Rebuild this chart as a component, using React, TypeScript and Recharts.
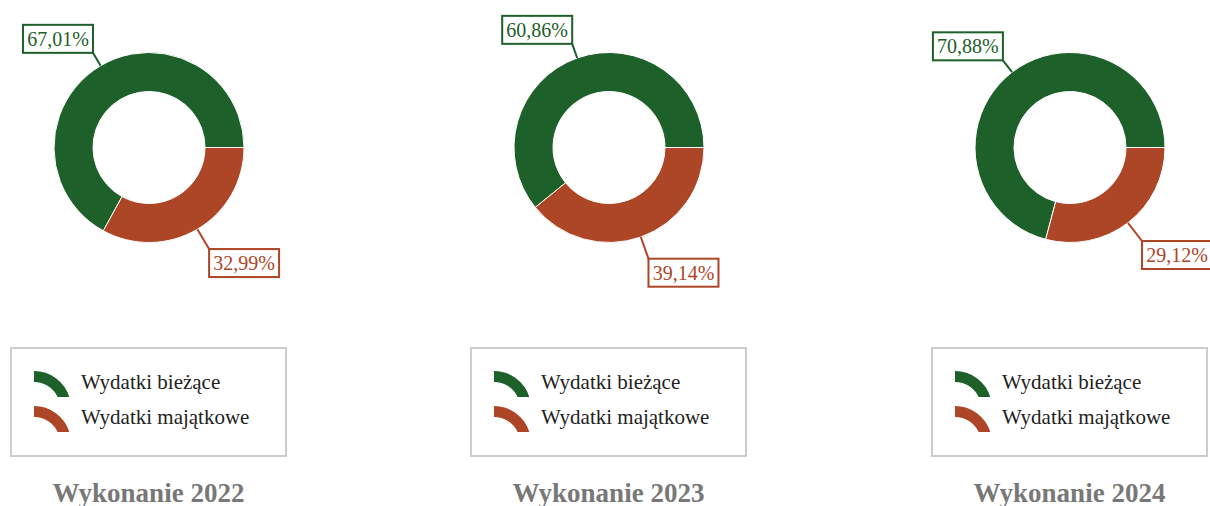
import { PieChart, Pie, Cell, Legend } from 'recharts';

const YEARS = ['2022', '2023', '2024'];
const CATEGORIES = ['Wydatki bieżące', 'Wydatki majątkowe'];
const CURRENT = [67.01, 60.86, 70.88];
const CAPITAL = [32.99, 39.14, 29.12];
const COLORS = ['#1E602A', '#AD4527'];

const CENTERS = [148.5, 608.5, 1069.5];
const CHART_W = 400;
const CHART_H = 506;
const FONT = '"Liberation Serif", "Times New Roman", serif';
const RADIAN = Math.PI / 180;
const BOX_W = 70;
const BOX_H = 28;

const fmt = (v: number) => v.toFixed(2).replace('.', ',') + '%';

// boxed label with a short leader line, drawn outside the ring
const renderLabel = (props: any) => {
  const { cx, cy, midAngle, outerRadius, value, index } = props;
  const cos = Math.cos(-midAngle * RADIAN);
  const sin = Math.sin(-midAngle * RADIAN);
  const upper = sin < 0;
  const ext = upper ? 15 : 23;
  const sx = cx + outerRadius * cos;
  const sy = cy + outerRadius * sin;
  const ex = cx + (outerRadius + ext) * cos;
  const ey = cy + (outerRadius + ext) * sin;
  const bx = cos >= 0 ? ex : ex - BOX_W;
  const by = upper ? ey - BOX_H : ey;
  const color = COLORS[index % COLORS.length];

  return (
    <g>
      <line x1={sx} y1={sy} x2={ex} y2={ey} stroke={color} strokeWidth={2} />
      <rect x={bx} y={by} width={BOX_W} height={BOX_H} fill="#fff" stroke={color} strokeWidth={2} />
      <text
        x={bx + BOX_W / 2}
        y={by + BOX_H / 2 + 7}
        textAnchor="middle"
        fill={color}
        fontSize={20}
        fontFamily={FONT}
      >
        {fmt(value)}
      </text>
    </g>
  );
};

const LegendBox = () => (
  <div
    style={{
      width: 277,
      height: 110,
      boxSizing: 'border-box',
      border: '2px solid #ccc',
      background: '#fff',
      position: 'relative',
    }}
  >
    {CATEGORIES.map((c, i) => (
      <div
        key={c}
        style={{ position: 'absolute', left: 22, top: 21 + i * 35, display: 'flex', alignItems: 'center' }}
      >
        <svg width={37} height={28}>
          <path d="M0,1 A37,37 0 0 1 35.3,27 L23.6,27 A26,26 0 0 0 0,12 Z" fill={COLORS[i]} />
        </svg>
        <span
          style={{
            marginLeft: 10,
            marginTop: -3,
            fontSize: 21,
            fontFamily: FONT,
            color: '#222',
            whiteSpace: 'nowrap',
          }}
        >
          {c}
        </span>
      </div>
    ))}
  </div>
);

const Donut = ({ i }: { i: number }) => {
  const data = [
    { name: CATEGORIES[0], value: CURRENT[i] },
    { name: CATEGORIES[1], value: CAPITAL[i] },
  ];
  return (
    <div style={{ position: 'absolute', left: CENTERS[i] - CHART_W / 2, top: 0, width: CHART_W, height: CHART_H }}>
      <PieChart width={CHART_W} height={CHART_H} margin={{ top: 0, right: 0, bottom: 0, left: 0 }}>
        <Pie
          data={data}
          dataKey="value"
          nameKey="name"
          cx={CHART_W / 2}
          cy={147.5}
          innerRadius={56}
          outerRadius={95}
          startAngle={0}
          endAngle={360}
          label={renderLabel}
          labelLine={false}
          isAnimationActive={false}
        >
          {data.map((d, k) => (
            <Cell key={d.name} fill={COLORS[k]} />
          ))}
        </Pie>
        <Legend
          content={() => <LegendBox />}
          wrapperStyle={{ position: 'absolute', left: CHART_W / 2 - 138.5, top: 347, bottom: 'auto', width: 277, height: 110 }}
        />
      </PieChart>
      <div
        style={{
          position: 'absolute',
          left: 0,
          width: CHART_W,
          top: 482,
          textAlign: 'center',
          fontFamily: FONT,
          fontWeight: 700,
          fontSize: 27,
          lineHeight: '22px',
          color: '#787878',
          whiteSpace: 'nowrap',
        }}
      >
        Wykonanie {YEARS[i]}
      </div>
    </div>
  );
};

export default function App() {
  return (
    <div
      style={{
        position: 'absolute',
        left: 0,
        top: 0,
        width: 1210,
        height: 506,
        overflow: 'hidden',
        background: '#fff',
      }}
    >
      {YEARS.map((y, i) => (
        <Donut key={y} i={i} />
      ))}
    </div>
  );
}
